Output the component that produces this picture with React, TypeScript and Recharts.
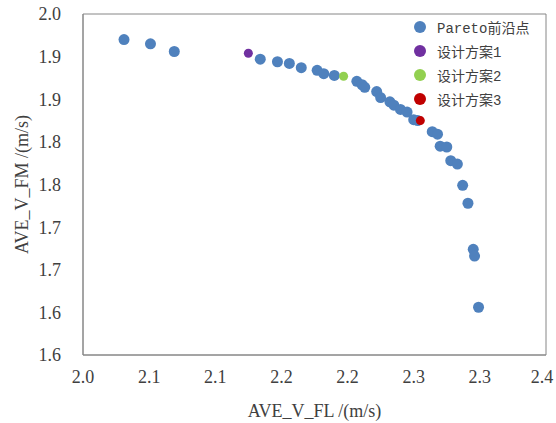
import React from 'react';
import {
    ScatterChart, Scatter, XAxis, YAxis, Legend, ReferenceArea, Label,
} from 'recharts';

// Pareto front, AVE_V_FL (x) vs AVE_V_FM (y)
const paretoFL = [
    2.031, 2.051, 2.069, 2.134, 2.147, 2.156, 2.165, 2.177, 2.182, 2.190,
    2.207, 2.211, 2.213, 2.222, 2.225, 2.232, 2.235, 2.240, 2.245, 2.250,
    2.253, 2.264, 2.268, 2.270, 2.275, 2.278, 2.283, 2.287, 2.291, 2.295,
    2.296, 2.299,
];
const paretoFM = [
    1.970, 1.965, 1.956, 1.947, 1.944, 1.942, 1.937, 1.934, 1.930, 1.928,
    1.921, 1.917, 1.914, 1.909, 1.902, 1.897, 1.893, 1.888, 1.885, 1.876,
    1.875, 1.862, 1.859, 1.845, 1.844, 1.828, 1.824, 1.799, 1.778, 1.724,
    1.716, 1.656,
];

const design1 = [{ fl: 2.125, fm: 1.954 }];
const design2 = [{ fl: 2.197, fm: 1.927 }];
const design3 = [{ fl: 2.255, fm: 1.875 }];

const xTicks = [2.0, 2.05, 2.1, 2.15, 2.2, 2.25, 2.3, 2.35];
const xTickLabels = ['2.0', '2.1', '2.1', '2.2', '2.2', '2.3', '2.3', '2.4'];
const yTicks = [1.6, 1.65, 1.7, 1.75, 1.8, 1.85, 1.9, 1.95, 2.0];
const yTickLabels = ['1.6', '1.6', '1.7', '1.7', '1.8', '1.8', '1.9', '1.9', '2.0'];

const paretoData = paretoFL.map((fl, i) => ({ fl, fm: paretoFM[i] }));

const serif = '"Liberation Serif", "Times New Roman", serif';
const tickStyle = { fontSize: 18, fontFamily: serif, fill: '#404040' };

const dot = (r: number, color: string) => (props: any) => (
    <circle cx={props.cx} cy={props.cy} r={r} fill={color} />
);

const tickText = (labels: string[], anchor: string, dy: string) => (p: any) => (
    <text x={p.x} y={p.y} textAnchor={anchor} dy={dy}
        fontFamily={serif} fontSize={18} fill="#404040">
        {labels[p.index]}
    </text>
);

const LegendBox = (props: any) => {
    const items = props.payload || [];
    return (
        <div>
            {items.map((it: any) => (
                <div key={it.value} style={{ display: 'flex', alignItems: 'center', height: 24 }}>
                    <span style={{
                        width: 12, height: 12, borderRadius: 6, background: it.color,
                        display: 'inline-block', marginRight: 11,
                    }} />
                    <span style={{
                        fontFamily: '"Liberation Mono", "Noto Sans CJK SC", monospace',
                        fontSize: 14, color: '#404040',
                    }}>{it.value}</span>
                </div>
            ))}
        </div>
    );
};

const YTitle = (props: any) => {
    const vb = props.viewBox;
    const x = vb.x + 22;
    const y = vb.y + vb.height / 2;
    return (
        <text x={x} y={y} transform={`rotate(-90, ${x}, ${y})`} textAnchor="middle"
            dominantBaseline="central" style={tickStyle}>
            AVE_V_FM /(m/s)
        </text>
    );
};

export default function App() {
    return (
        <div style={{ position: 'absolute', left: 0, top: 0, background: '#fff' }}>
            <ScatterChart width={556} height={423} margin={{ top: 14, right: 10, left: 0, bottom: 0 }}>
                <XAxis
                    type="number" dataKey="fl" domain={[2.0, 2.35]} ticks={xTicks}
                    tick={tickText(xTickLabels, 'middle', '0.71em')}
                    tickLine={false} tickSize={13} tickMargin={2}
                    axisLine={{ stroke: '#868686' }} height={68}
                    allowDataOverflow
                >
                    <Label value="AVE_V_FL /(m/s)" position="insideBottom" offset={6} style={tickStyle} />
                </XAxis>
                <YAxis
                    type="number" dataKey="fm" domain={[1.6, 2.0]} ticks={yTicks}
                    tick={tickText(yTickLabels, 'end', '0.355em')}
                    tickLine={false} tickSize={20} tickMargin={2}
                    axisLine={{ stroke: '#868686' }} width={83}
                    allowDataOverflow
                >
                    <Label content={YTitle} />
                </YAxis>
                <ReferenceArea x1={2.0} x2={2.35} y1={1.6} y2={2.0} fill="none" stroke="#868686" />
                <Legend
                    layout="vertical" verticalAlign="middle" align="center"
                    content={LegendBox}
                    wrapperStyle={{ left: 414, top: 15, width: 140 }}
                />
                <Scatter name="Pareto前沿点" data={paretoData} fill="#4F81BD"
                    shape={dot(5.5, '#4F81BD')} isAnimationActive={false} />
                <Scatter name="设计方案1" data={design1} fill="#7030A0"
                    shape={dot(4.5, '#7030A0')} isAnimationActive={false} />
                <Scatter name="设计方案2" data={design2} fill="#92D050"
                    shape={dot(4.5, '#92D050')} isAnimationActive={false} />
                <Scatter name="设计方案3" data={design3} fill="#C00000"
                    shape={dot(4.5, '#C00000')} isAnimationActive={false} />
            </ScatterChart>
        </div>
    );
}
